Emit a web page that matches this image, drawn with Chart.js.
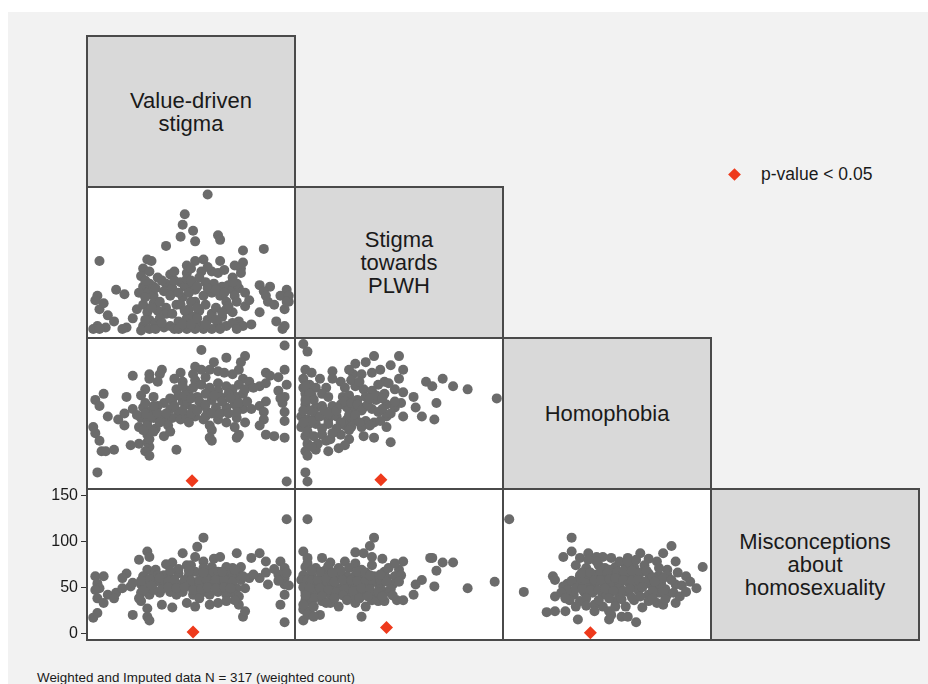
<!DOCTYPE html>
<html>
<head>
<meta charset="utf-8">
<script src="https://cdn.jsdelivr.net/npm/chart.js@4.4.1/dist/chart.umd.min.js"></script>
<style>
  html, body { margin: 0; padding: 0; background: #ffffff; }
  body { width: 928px; height: 684px; position: relative; overflow: hidden;
         font-family: "Liberation Sans", Arial, Helvetica, sans-serif; color: #1a1a1a; }
  #frame { position: absolute; left: 8px; top: 12px; width: 920px; height: 672px; background: #f2f2f2; }
  .cell { position: absolute; box-sizing: border-box; border: 2px solid #4a4a4a; pointer-events: none; }
  .diag { background: #d9d9d9; display: flex; align-items: center; justify-content: center;
          text-align: center; font-size: 22px; line-height: 23px; color: #1a1a1a; }
  .plotbg { position: absolute; background: #ffffff; }
  canvas { position: absolute; }
  #legend { position: absolute; left: 728px; top: 162px; height: 24px; display: flex; align-items: center; font-size: 17.5px; }
  #legend .dia { width: 9px; height: 9px; background: #ee3a1c; transform: rotate(45deg); margin-right: 22px; margin-left: 2px; }
  #note { position: absolute; left: 37px; top: 670px; font-size: 13.4px; white-space: nowrap; }
</style>
</head>
<body>
<div id="frame"></div>
<div id="legend"><div class="dia"></div><span>p-value &lt; 0.05</span></div>
<div id="note">Weighted and Imputed data N = 317 (weighted count)</div>
<script>
// ---------------- DATA ----------------
const variables = ["Value-driven\nstigma", "Stigma\ntowards\nPLWH", "Homophobia", "Misconceptions\nabout\nhomosexuality"];
const misconceptionTicks = [0, 50, 100, 150];
const legendLabel = "p-value < 0.05";

// Value-driven stigma (x) vs Stigma towards PLWH (y)
const valueVsStigma = [[58,95],[47,82],[46,75],[51,71],[45,67],[52,64],[63,68],[64,65],[38,61],[85,59],[75,58],[6,51],[29,52],[31,51],[48,48],[52,51],[56,52],[64,51],[71,48],[75,50],[74,46],[27,46],[26,41],[34,40],[40,42],[30,44],[48,43],[55,44],[60,44],[63,43],[70,40],[74,43],[83,35],[88,34],[96,32],[5,28],[4,25],[14,32],[18,29],[27,34],[29,30],[30,36],[32,28],[38,36],[37,31],[41,33],[45,37],[47,34],[51,35],[54,40],[57,37],[61,36],[65,34],[68,35],[70,32],[73,33],[76,30],[85,31],[93,28],[97,24],[95,19],[87,24],[6,19],[8,23],[10,15],[13,11],[5,8],[9,7],[19,7],[22,13],[24,19],[27,22],[29,17],[32,23],[34,18],[38,20],[43,22],[46,27],[49,30],[52,24],[56,28],[60,30],[64,28],[67,24],[76,21],[27,8],[30,12],[33,10],[37,7],[40,8],[44,11],[48,13],[51,14],[52,10],[55,8],[58,12],[60,16],[63,9],[67,8],[70,17],[73,11],[75,8],[79,9],[83,17],[91,11],[94,6],[26,5],[30,6],[38,16],[41,16],[49,19],[54,18],[56,6],[60,6],[68,21],[42,6],[52,6],[48,6],[35,13],[32,34],[25,30],[28,27],[40,28],[44,30],[48,39],[52,32],[71,28],[72,36],[72,24],[78,25],[65,14],[67,19],[3,6],[6,6],[17,6],[95,8],[97,28],
  [33,33],[36,38],[42,38],[50,38],[53,34],[58,33],[62,32],[66,30],[70,37],[45,22],[47,18],[50,24],[53,20],[57,22],[62,20],[65,17],[35,24],[31,20],[28,12],[33,6],[36,10],[44,6],[46,9],[50,9],[53,13],[57,9],[62,12],[64,6],[70,10],[72,6],[42,44],[50,46],[58,47],[66,45],[28,38],[86,28],[90,22],[96,24]];

// Value-driven stigma (x) vs Homophobia (y)
const valueVsHomophobia = [[95,95],[55,92],[76,88],[67,87],[74,84],[61,84],[52,81],[55,79],[59,79],[63,78],[73,79],[36,79],[30,76],[35,76],[22,75],[45,77],[51,76],[70,76],[86,77],[95,79],[92,74],[88,75],[30,73],[34,71],[46,71],[52,72],[63,70],[75,73],[78,71],[96,69],[28,66],[43,66],[48,65],[51,67],[55,69],[59,67],[63,65],[67,68],[70,66],[73,69],[83,68],[92,65],[8,63],[4,59],[6,55],[19,61],[26,62],[32,61],[37,57],[41,59],[46,58],[49,62],[53,61],[57,63],[60,59],[64,61],[68,63],[72,61],[75,63],[86,58],[95,61],[94,57],[22,53],[27,54],[31,52],[34,55],[40,53],[44,51],[48,56],[51,53],[55,55],[58,51],[62,54],[67,54],[71,56],[75,53],[79,53],[83,55],[85,51],[95,51],[10,48],[15,46],[18,50],[26,47],[29,45],[32,47],[37,46],[41,47],[45,46],[48,47],[52,48],[56,46],[59,42],[63,46],[67,44],[72,47],[76,44],[85,46],[95,45],[3,41],[18,42],[25,41],[29,42],[33,40],[39,42],[49,44],[60,39],[71,41],[73,36],[83,42],[4,37],[29,36],[37,35],[32,38],[40,38],[59,34],[72,34],[86,36],[90,35],[95,34],[6,32],[21,29],[25,30],[29,31],[30,28],[60,32],[7,25],[9,25],[13,26],[28,25],[30,22],[43,26],[5,11],[96,5],
  [40,60],[44,62],[47,62],[50,60],[54,58],[57,56],[61,62],[65,58],[69,60],[73,57],[77,58],[42,55],[46,52],[50,50],[53,52],[57,48],[60,50],[64,50],[68,50],[72,51],[28,50],[31,48],[34,50],[28,57],[32,55],[35,44],[38,50],[24,49],[27,39],[30,33],[76,66],[80,67],[86,70],[46,68],[42,73],[57,74],[66,77],[93,60]];

// Stigma towards PLWH (x) vs Homophobia (y)
const stigmaVsHomophobia = [[4,96],[6,91],[38,88],[50,88],[29,83],[34,84],[46,82],[52,79],[5,79],[8,77],[18,78],[28,76],[32,76],[37,77],[43,71],[50,73],[40,69],[22,71],[18,73],[4,73],[7,69],[10,67],[15,67],[24,67],[29,68],[33,66],[37,65],[48,66],[52,64],[63,71],[66,68],[71,73],[76,68],[83,66],[97,60],[57,61],[68,57],[5,63],[8,62],[13,63],[16,61],[23,61],[26,62],[30,59],[34,61],[39,59],[44,56],[48,54],[51,57],[5,56],[10,54],[13,55],[18,55],[25,54],[29,53],[33,54],[37,53],[40,51],[44,48],[52,48],[58,54],[61,48],[67,46],[3,48],[6,46],[10,47],[16,46],[20,48],[25,46],[29,46],[34,45],[38,44],[6,42],[10,43],[16,43],[24,42],[27,41],[32,41],[44,41],[5,35],[13,36],[22,36],[26,39],[33,35],[38,34],[46,31],[6,30],[15,32],[17,33],[5,25],[10,26],[16,25],[21,27],[6,22],[5,11],[6,5],[9,51],[4,67],[12,73],[26,79],[41,79],[3,41],[43,63],
  [5,68],[7,63],[9,59],[5,59],[7,52],[4,52],[8,45],[4,44],[6,38],[9,35],[13,40],[12,48],[14,52],[16,50],[20,52],[22,56],[24,58],[27,57],[30,56],[32,52],[35,56],[36,60],[39,62],[42,60],[42,53],[26,49],[29,49],[31,44],[22,44],[20,40],[18,37],[26,33],[24,29],[36,42],[41,45],[46,50],[48,58],[45,70],[27,72],[31,71],[11,30],[8,28]];

// Value-driven stigma (x) vs Misconceptions (y)
const valueVsMisconceptions = [[96,124],[56,104],[29,89],[30,83],[25,80],[53,94],[46,87],[52,83],[56,78],[61,81],[64,83],[72,87],[79,82],[83,87],[86,78],[93,78],[38,75],[41,77],[48,74],[60,72],[67,72],[70,71],[74,72],[95,71],[29,69],[33,69],[19,65],[17,60],[4,62],[8,62],[27,62],[32,63],[37,63],[40,60],[44,65],[49,63],[52,67],[56,63],[60,65],[63,62],[68,63],[73,65],[78,60],[83,60],[87,53],[92,64],[95,60],[95,53],[5,54],[10,42],[14,44],[17,49],[21,51],[26,53],[29,54],[33,56],[37,53],[41,54],[45,53],[48,54],[52,51],[56,53],[60,56],[64,53],[68,54],[72,49],[76,49],[6,49],[5,38],[8,33],[26,44],[30,42],[35,44],[40,45],[43,42],[51,42],[55,44],[59,42],[63,45],[67,42],[70,44],[73,40],[95,42],[93,31],[26,35],[29,27],[36,31],[41,28],[48,33],[52,29],[59,31],[63,33],[73,31],[75,18],[76,24],[22,20],[29,18],[30,14],[3,17],[5,22],[95,12],[28,49],[32,47],[34,63],[50,74],[56,71],[63,67],[70,60],[46,45],[54,38],[71,36],[67,35],[25,38],[4,47],[13,38],
  [35,60],[39,56],[42,58],[47,58],[50,57],[54,58],[57,60],[62,58],[66,58],[70,56],[74,58],[75,62],[71,69],[36,48],[39,50],[43,49],[47,50],[51,47],[55,48],[58,50],[62,49],[66,50],[69,49],[30,59],[26,57],[22,55],[27,47],[31,52],[65,67],[56,66],[44,70],[40,68],[49,68],[80,64],[86,66],[90,70],[96,66],[92,57],[97,52]];

// Stigma towards PLWH (x) vs Misconceptions (y)
const stigmaVsMisconceptions = [[6,124],[38,104],[36,95],[4,89],[29,88],[33,87],[37,83],[42,81],[65,82],[66,82],[71,77],[76,77],[52,78],[6,82],[13,82],[17,77],[24,78],[29,76],[37,74],[5,72],[10,71],[15,69],[21,71],[26,71],[32,69],[43,67],[50,69],[68,68],[4,63],[8,62],[13,63],[22,64],[25,62],[29,63],[33,62],[38,62],[44,60],[48,62],[51,63],[5,54],[10,53],[14,54],[18,53],[24,54],[28,53],[32,54],[36,53],[40,54],[47,53],[50,56],[61,58],[58,53],[67,51],[83,49],[96,56],[5,45],[9,44],[13,45],[17,42],[26,47],[30,44],[33,45],[38,42],[44,45],[57,42],[49,36],[52,36],[5,36],[8,33],[13,35],[17,33],[21,29],[29,33],[34,29],[40,35],[43,35],[4,26],[7,24],[12,20],[32,18],[4,14],[3,58],[6,76],[19,60],[27,40],[37,36],[41,49],[16,73],[21,49],[9,38],
  [6,58],[8,57],[4,50],[7,49],[5,41],[4,31],[9,29],[6,20],[11,58],[15,60],[19,56],[23,58],[27,58],[30,57],[34,57],[37,58],[41,58],[44,56],[12,49],[16,47],[20,45],[24,48],[28,46],[32,49],[36,48],[40,45],[46,48],[23,41],[19,38],[13,40],[15,33],[25,36],[31,38],[35,40],[42,40],[47,41],[30,67],[34,66],[22,68],[18,66],[12,67],[8,68],[36,63],[41,64],[45,71],[48,76],[9,18]];

// Homophobia (x) vs Misconceptions (y)
const homophobiaVsMisconceptions = [[3,124],[33,104],[10,45],[81,95],[77,87],[96,72],[33,89],[29,83],[37,82],[41,87],[45,83],[52,82],[60,82],[66,87],[70,81],[74,78],[83,78],[35,74],[40,71],[46,74],[49,71],[54,72],[59,74],[63,72],[68,74],[79,69],[24,62],[25,58],[37,63],[41,62],[45,64],[49,62],[53,64],[57,63],[61,65],[65,63],[70,65],[75,63],[79,63],[88,62],[31,54],[29,51],[36,53],[40,54],[44,53],[48,56],[52,53],[56,54],[60,56],[63,53],[67,54],[71,53],[76,54],[83,53],[93,49],[25,40],[30,44],[34,42],[39,45],[43,44],[48,42],[52,45],[56,42],[60,45],[65,47],[70,42],[75,44],[79,42],[32,36],[37,35],[44,31],[48,29],[54,35],[59,29],[63,36],[70,35],[74,33],[77,31],[83,33],[21,23],[25,24],[30,24],[35,29],[44,24],[51,24],[52,20],[57,18],[60,18],[51,15],[36,15],[64,12],[41,49],[56,49],[71,58],[51,69],[63,60],[37,60],[31,47],[75,51],[56,78],[48,83],
  [38,66],[42,66],[47,67],[50,65],[55,67],[58,68],[62,68],[66,66],[69,68],[72,61],[77,60],[81,58],[44,58],[47,58],[51,59],[54,60],[58,58],[62,57],[65,58],[68,56],[73,56],[78,48],[33,57],[35,49],[38,48],[42,47],[46,47],[49,49],[53,46],[58,46],[61,48],[67,50],[72,46],[77,45],[82,44],[86,52],[90,56],[28,44],[30,38],[40,38],[46,36],[51,38],[57,37],[62,39],[66,40],[72,38],[78,37],[40,30],[54,29],[67,28],[45,78],[41,80],[60,78],[64,80],[75,71],[84,66],[85,40],[88,45]];

// p-value < 0.05 markers: [x, y] per panel
const sigValueHomophobia = [[50.5, 5.5]];
const sigStigmaHomophobia = [[41.3, 6.1]];
const sigValueMisconceptions = [[51, 1.3]];
const sigStigmaMisconceptions = [[44, 6.4]];
const sigHomophobiaMisconceptions = [[42, 0.6]];

// variable scale ranges (index: 0 value-driven, 1 stigma, 2 homophobia, 3 misconceptions)
const varMin = [0, 0, 0, -7.3];
const varMax = [100, 100, 100, 156.9];

// ---------------- LAYOUT ----------------
const colX = [87, 295, 503, 711, 919];
const rowY = [36, 187, 338, 489, 640];
const POINT = '#6b6b6b', SIG = '#ee3a1c';
const LABEL_PAD = 12;

const panels = [
  {r:1, c:0, pts:valueVsStigma, sig:[]},
  {r:2, c:0, pts:valueVsHomophobia, sig:sigValueHomophobia},
  {r:2, c:1, pts:stigmaVsHomophobia, sig:sigStigmaHomophobia},
  {r:3, c:0, pts:valueVsMisconceptions, sig:sigValueMisconceptions, axis:true},
  {r:3, c:1, pts:stigmaVsMisconceptions, sig:sigStigmaMisconceptions},
  {r:3, c:2, pts:homophobiaVsMisconceptions, sig:sigHomophobiaMisconceptions},
];

const body = document.body;
function addDiv(cls, l, t, w, h, html) {
  const d = document.createElement('div');
  d.className = cls;
  Object.assign(d.style, {left: l + 'px', top: t + 'px', width: w + 'px', height: h + 'px'});
  if (html !== undefined) d.innerHTML = html;
  body.appendChild(d);
  return d;
}

panels.forEach(p => addDiv('plotbg', colX[p.c], rowY[p.r], colX[p.c+1]-colX[p.c], rowY[p.r+1]-rowY[p.r]));
variables.forEach((v, i) => {
  addDiv('cell diag', colX[i]-1, rowY[i]-1, colX[i+1]-colX[i]+2, rowY[i+1]-rowY[i]+2,
         v.split('\n').join('<br>'));
});

Chart.defaults.font.family = '"Liberation Sans", Arial, Helvetica, sans-serif';

panels.forEach(p => {
  const pad = p.axis ? LABEL_PAD : 0;
  const left = p.axis ? 8 : colX[p.c];
  const w = colX[p.c+1] - left;
  const h = rowY[p.r+1] - rowY[p.r] + 2 * pad;
  const cv = document.createElement('canvas');
  cv.width = w; cv.height = h;
  cv.style.left = left + 'px'; cv.style.top = (rowY[p.r] - pad) + 'px';
  cv.style.width = w + 'px'; cv.style.height = h + 'px';
  body.appendChild(cv);
  const axisW = colX[p.c] - left;
  new Chart(cv, {
    type: 'scatter',
    data: {
      datasets: [
        {data: p.sig.map(([x,y]) => ({x,y})), pointStyle: 'rectRot', pointRadius: 6.5,
         backgroundColor: SIG, borderWidth: 0, clip: false, order: 0},
        {data: p.pts.map(([x,y]) => ({x,y})), pointRadius: 5, backgroundColor: POINT,
         borderWidth: 0, clip: 3, order: 1}
      ]
    },
    options: {
      responsive: false, animation: false, devicePixelRatio: 1,
      layout: {padding: {top: pad, bottom: pad, left: 0, right: 0}, autoPadding: false},
      plugins: {legend: {display: false}, tooltip: {enabled: false}},
      scales: {
        x: {type: 'linear', display: false, min: varMin[p.c], max: varMax[p.c]},
        y: {type: 'linear', display: !!p.axis, min: varMin[p.r], max: varMax[p.r],
            afterBuildTicks: s => { if (p.axis) s.ticks = misconceptionTicks.map(v => ({value: v})); },
            afterFit: s => { if (p.axis) { s.width = axisW; s.paddingTop = 0; s.paddingBottom = 0; } },
            border: {display: false},
            grid: {drawOnChartArea: false, drawTicks: true, tickLength: 6, color: '#333', lineWidth: 1},
            ticks: {color: '#1a1a1a', font: {size: 16}, padding: 3}}
      }
    }
  });
});

panels.forEach(p => addDiv('cell', colX[p.c]-1, rowY[p.r]-1, colX[p.c+1]-colX[p.c]+2, rowY[p.r+1]-rowY[p.r]+2));
</script>
</body>
</html>
